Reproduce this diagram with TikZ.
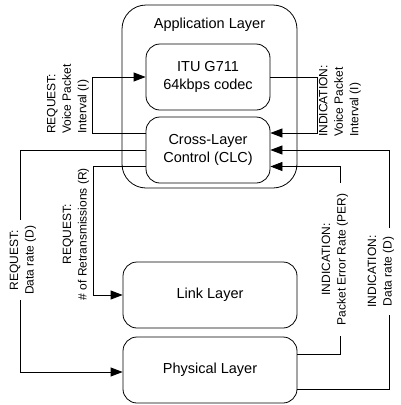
\documentclass[tikz,border=0pt]{standalone}
\usepackage{fontspec}
\setmainfont{Liberation Sans}
\usetikzlibrary{arrows.meta}
\begin{document}
\begin{tikzpicture}[x=1pt,y=-1pt,
  box/.style={draw, line width=0.8pt, rounded corners=14pt, inner sep=0pt, align=center,
    font=\fontsize{14.5}{18}\selectfont},
  conn/.style={line width=0.8pt},
  arr/.style={conn, -{Triangle[length=12pt,width=9pt]}},
  lbl/.style={rotate=90, inner sep=2pt, align=center, font=\fontsize{12}{15.5}\selectfont},
  mlbl/.style={lbl, fill=white, inner ysep=1pt}]
\useasboundingbox (0,0) rectangle (401,405);
% boxes
\node[box, minimum width=175pt, minimum height=183pt, rounded corners=24pt] (app) at (209.5,96.5) {};
\node[font=\fontsize{14.5}{18}\selectfont] (apptitle) at (209.5,25) {Application Layer};
\node[box, minimum width=124pt, minimum height=66pt] (itu) at (208,77) {ITU G711\\64kbps codec};
\node[box, minimum width=124pt, minimum height=66pt] (clc) at (208,150) {Cross-Layer\\Control (CLC)};
\node[box, minimum width=174pt, minimum height=66pt] (link) at (210,295) {Link Layer};
\node[box, minimum width=174pt, minimum height=66pt] (phys) at (210,370) {Physical Layer};
% connectors
\draw[arr] ([yshift=17pt]clc.west) -- ++(-53,0) |- (itu.west);
\draw[arr] (itu.east) -- ++(47,0) |- ([yshift=17pt]clc.east);
\draw[arr] (clc.west) -- ++(-125,0) |- ([yshift=-2pt]phys.west);
\draw[arr] ([yshift=-16.5pt]clc.west) -- ++(-52,0) |- (link.west);
\draw[arr] ([yshift=-19pt]phys.east) -- ++(92,0) |- (clc.east);
\draw[arr] ([yshift=16pt]phys.east) -- ++(43,0) |- ([yshift=-16.5pt]clc.east);
% labels
\node[lbl, align=left] (lreqvpi) at (68,99) {REQUEST:\\Voice Packet\\Interval (I)};
\node[lbl, align=left] (lindvpi) at (340,101) {INDICATION:\\Voice Packet\\Interval (I)};
\node[lbl] (lreqr) at (76,234) {REQUEST:\\\# of Retransmissions (R)};
\node[mlbl, minimum width=80pt] (lreqd) at (23,260) {REQUEST:\\Data rate (D)};
\node[mlbl, minimum width=153pt] (lper) at (335,259.5) {INDICATION:\\Packet Error Rate (PER)};
\node[mlbl, minimum width=87pt] (lindd) at (381,271.5) {INDICATION:\\Data rate (D)};
\end{tikzpicture}
\end{document}
